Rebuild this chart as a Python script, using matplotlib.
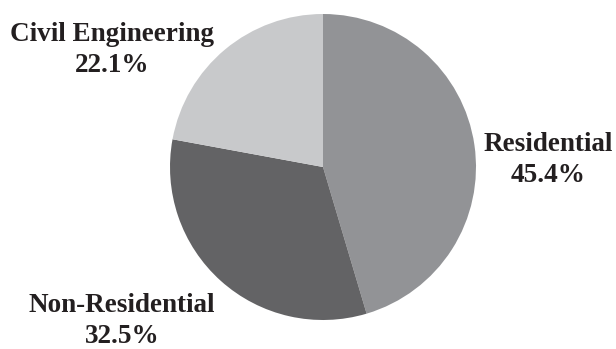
import matplotlib
matplotlib.use('Agg')
import matplotlib.pyplot as plt

# 데이터
categories = ['Residential', 'Non-Residential', 'Civil Engineering']
shares = [45.4, 32.5, 22.1]
colors = ['#929396', '#636365', '#c8c9cb']

W, H = 616, 349
fig = plt.figure(figsize=(W / 100, H / 100), dpi=100)

# 파이 위치 (픽셀 기준)
cx, cy, r = 323, 167, 153
ax = fig.add_axes([(cx - r) / W, (H - cy - r) / H, 2 * r / W, 2 * r / H])
ax.pie(shares, colors=colors, startangle=90, counterclock=False,
       radius=1, wedgeprops=dict(linewidth=0))
ax.set_xlim(-1, 1)
ax.set_ylim(-1, 1)
ax.set_aspect('equal')
ax.axis('off')

# 라벨 위치
label_pos = {'Residential': (548, 160),
             'Non-Residential': (122, 321),
             'Civil Engineering': (112, 50)}

for cat, val in zip(categories, shares):
    x, y = label_pos[cat]
    fig.text(x / W, 1 - y / H, f'{cat}\n{val}%', ha='center', va='center',
             fontsize=19.5, fontweight='bold', family=['Liberation Serif'],
             color='#231f20', linespacing=1.3)

fig.savefig('out.png', dpi=100)
